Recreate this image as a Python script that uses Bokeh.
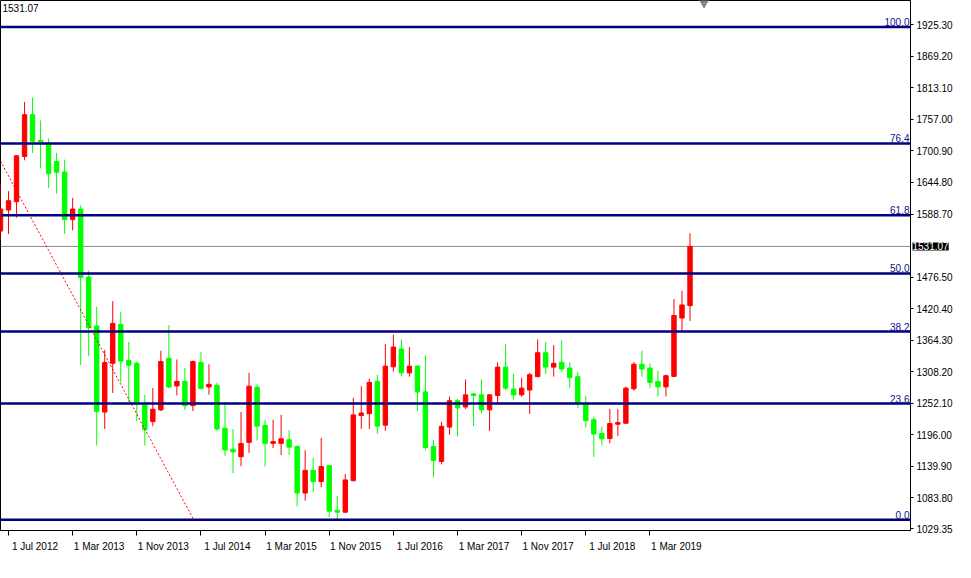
from bokeh.plotting import figure
from bokeh.models import (Range1d, Span, Label, FixedTicker, ColumnDataSource,
                          NumeralTickFormatter)
from bokeh.embed import file_html
from bokeh.resources import INLINE

# ---- data (monthly candles, first bar = Jun 2012) ----
first_month = (2012, 6)
opens = [1558.4, 1595.8, 1610.6, 1691.0, 1765.3, 1719.4, 1713.8, 1682.0, 1663.3, 1578.8,
         1597.5, 1476.5, 1389.6, 1236.6, 1323.3, 1392.5, 1328.4, 1323.3, 1249.0, 1219.6,
         1240.5, 1332.1, 1283.0, 1291.0, 1248.0, 1324.5, 1281.3, 1284.2, 1207.7, 1170.3,
         1157.2, 1182.7, 1280.8, 1212.8, 1181.0, 1181.0, 1187.3, 1175.4, 1092.6, 1132.9,
         1113.0, 1141.4, 1062.0, 1058.6, 1114.7, 1230.3, 1233.7, 1291.0, 1213.3, 1317.0,
         1348.8, 1306.3, 1318.2, 1272.3, 1175.4, 1148.7, 1209.9, 1256.8, 1245.6, 1268.9,
         1267.2, 1240.5, 1266.0, 1316.5, 1277.4, 1267.2, 1275.7, 1299.5, 1342.0, 1316.5,
         1325.0, 1314.8, 1299.5, 1250.2, 1223.0, 1198.4, 1189.5, 1215.0, 1216.7, 1278.0,
         1321.6, 1314.8, 1291.0, 1281.3, 1300.0, 1403.7, 1425.8]
highs = [1641.7, 1629.3, 1693.0, 1787.9, 1795.9, 1755.1, 1722.8, 1697.3, 1685.4, 1617.4,
         1603.8, 1488.2, 1423.6, 1347.1, 1433.8, 1415.1, 1361.2, 1326.2, 1267.2, 1279.1,
         1345.4, 1391.3, 1330.1, 1314.8, 1328.2, 1343.2, 1321.6, 1288.8, 1253.6, 1206.5,
         1236.6, 1306.3, 1285.9, 1223.0, 1223.0, 1231.5, 1204.3, 1177.1, 1168.6, 1155.0,
         1190.7, 1142.0, 1087.5, 1126.1, 1262.1, 1282.5, 1296.1, 1302.9, 1357.3, 1374.3,
         1365.8, 1352.2, 1319.9, 1337.2, 1187.3, 1219.6, 1263.8, 1260.4, 1294.4, 1270.6,
         1294.4, 1268.0, 1325.0, 1357.3, 1304.6, 1297.8, 1306.3, 1365.8, 1360.7, 1355.6,
         1364.1, 1325.0, 1308.0, 1265.5, 1228.1, 1211.1, 1242.2, 1241.7, 1281.9, 1325.6,
         1345.4, 1323.3, 1310.1, 1302.9, 1437.2, 1452.5, 1554.5]
lows = [1542.6, 1553.3, 1582.2, 1684.2, 1697.3, 1670.1, 1634.9, 1624.7, 1553.3, 1559.6,
        1320.4, 1335.7, 1177.1, 1206.5, 1270.6, 1289.3, 1253.6, 1219.8, 1177.1, 1211.1,
        1238.3, 1279.0, 1266.0, 1240.5, 1238.3, 1277.0, 1267.7, 1202.6, 1159.0, 1127.8,
        1140.2, 1164.0, 1186.1, 1140.2, 1172.5, 1160.1, 1160.1, 1068.8, 1079.0, 1094.3,
        1102.8, 1050.1, 1045.0, 1056.9, 1113.0, 1206.5, 1206.5, 1198.0, 1203.1, 1308.5,
        1300.0, 1299.5, 1238.3, 1168.6, 1120.6, 1143.6, 1196.3, 1192.9, 1242.2, 1211.6,
        1234.5, 1203.1, 1250.7, 1275.7, 1258.7, 1263.8, 1233.2, 1299.5, 1304.6, 1299.5,
        1307.8, 1279.1, 1243.4, 1209.4, 1156.7, 1177.1, 1181.0, 1194.1, 1216.0, 1274.6,
        1299.5, 1279.1, 1264.3, 1264.3, 1300.0, 1381.1, 1398.6]
closes = [1597.5, 1612.3, 1692.2, 1765.3, 1718.2, 1716.5, 1660.4, 1662.8, 1578.8, 1597.5,
          1475.8, 1386.7, 1237.8, 1324.5, 1394.2, 1327.2, 1319.9, 1250.7, 1205.5, 1241.7,
          1326.5, 1281.1, 1291.0, 1248.0, 1326.5, 1278.6, 1285.9, 1206.5, 1169.1, 1165.7,
          1180.5, 1282.5, 1211.6, 1181.0, 1184.0, 1189.1, 1174.2, 1092.6, 1132.9, 1113.0,
          1139.7, 1060.3, 1058.6, 1115.9, 1231.5, 1234.9, 1289.3, 1211.6, 1318.2, 1352.2,
          1306.3, 1318.2, 1272.3, 1173.7, 1150.4, 1211.1, 1256.8, 1243.9, 1267.2, 1266.0,
          1240.5, 1267.2, 1316.5, 1279.1, 1267.2, 1279.1, 1302.9, 1342.0, 1316.5, 1323.3,
          1313.1, 1297.8, 1251.9, 1221.3, 1197.5, 1189.1, 1216.2, 1217.9, 1279.1, 1321.6,
          1313.1, 1289.3, 1281.3, 1301.2, 1408.3, 1427.0, 1531.07]

tick_months = [(2012, 7), (2013, 3), (2013, 11), (2014, 7), (2015, 3), (2015, 11),
               (2016, 7), (2017, 3), (2017, 11), (2018, 7), (2019, 3)]
tick_labels = ["1 Jul 2012", "1 Mar 2013", "1 Nov 2013", "1 Jul 2014", "1 Mar 2015",
               "1 Nov 2015", "1 Jul 2016", "1 Mar 2017", "1 Nov 2017", "1 Jul 2018",
               "1 Mar 2019"]

price_ticks = [1029.35, 1083.80, 1139.90, 1196.00, 1252.10, 1308.20, 1364.30, 1420.40,
               1476.50, 1588.70, 1644.80, 1700.90, 1757.00, 1813.10, 1869.20, 1925.30]

fib_levels = [0.0, 23.6, 38.2, 50.0, 61.8, 76.4, 100.0]
fib_prices = [1045.0, 1251.7, 1379.6, 1483.0, 1586.3, 1714.2, 1921.0]

current_price = 1531.07
fibo_anchor_months = [(2011, 9), (2014, 6)]
fibo_anchor_prices = [1921.0, 1045.0]
fibo_anchor_frac = [0.0, 0.1]

shift_marker_month = 87.75

# ---- helpers ----
def month_index(ym, frac=0.0):
    return (ym[0] - first_month[0]) * 12 + (ym[1] - first_month[1]) + frac

n = len(opens)
xs = list(range(n))
UP = "#FF0000"
DOWN = "#00FF00"
colors = [UP if c >= o else DOWN for o, c in zip(opens, closes)]
src = ColumnDataSource(dict(
    x=xs, high=highs, low=lows,
    top=[max(o, c) for o, c in zip(opens, closes)],
    bottom=[min(o, c) for o, c in zip(opens, closes)],
    color=colors,
))

X_END = 113.5          # ~8 px per monthly bar
Y_MIN, Y_MAX = 1026.0, 1968.3
FONT = "Liberation Sans"
LABEL_SHIFT = 3.3      # date labels start just right of their tick

p = figure(width=955, height=562, output_backend="svg", toolbar_location=None,
           x_range=Range1d(0, X_END), y_range=Range1d(Y_MIN, Y_MAX),
           y_axis_location="right", min_border=0)
p.grid.visible = False
p.outline_line_color = "black"
p.outline_line_width = 1
p.background_fill_color = "white"
p.border_fill_color = "white"

# x axis: labels as major ticks (no marks), real date ticks as minor marks
tick_pos = [month_index(m) for m in tick_months]
lab_pos = [t + LABEL_SHIFT for t in tick_pos]
xa = p.below[0]
xa.ticker = FixedTicker(ticks=lab_pos, minor_ticks=tick_pos)
xa.major_label_overrides = {t: l for t, l in zip(lab_pos, tick_labels)}
xa.major_tick_in = 0
xa.major_tick_out = 0
xa.minor_tick_in = 0
xa.minor_tick_out = 5
xa.minor_tick_line_color = "black"
xa.major_label_standoff = 5
xa.major_label_text_font = FONT
xa.major_label_text_font_size = "10px"
xa.major_label_text_color = "black"
xa.axis_line_color = "black"

# y axis on the right
ya = p.right[0]
ya.ticker = FixedTicker(ticks=price_ticks)
ya.formatter = NumeralTickFormatter(format="0.00")
ya.major_tick_in = 0
ya.major_tick_out = 3
ya.minor_tick_line_color = None
ya.major_label_standoff = 3
ya.major_label_text_font = FONT
ya.major_label_text_font_size = "10px"
ya.major_label_text_color = "black"
ya.axis_line_color = "black"

# current price line
p.add_layout(Span(location=current_price, dimension="width", line_color="#8a8a8a",
                  line_width=1, level="underlay"))

# candles
p.segment(x0="x", y0="high", x1="x", y1="low", source=src, line_color="color", line_width=1)
p.vbar(x="x", width=0.55, top="top", bottom="bottom", source=src,
       fill_color="color", line_color="color", line_width=1)

# fibo diagonal
p.line(x=[month_index(m, f) for m, f in zip(fibo_anchor_months, fibo_anchor_frac)],
       y=fibo_anchor_prices, line_color="#FF0000", line_dash="2 2", line_width=1)

# fibo levels
for lvl, pr in zip(fib_levels, fib_prices):
    p.add_layout(Span(location=pr, dimension="width", line_color="#000080", line_width=2.5))
    p.add_layout(Label(x=X_END, y=pr, text=f"{lvl:.1f}", text_align="right",
                       text_baseline="bottom", x_offset=-1, y_offset=1,
                       text_font=FONT, text_font_size="10px", text_color="#10108a"))

# chart shift marker
p.scatter(x=[shift_marker_month], y=[Y_MAX - 3], marker="inverted_triangle", size=10,
          fill_color="#7d8a97", line_color="#7d8a97")

# top-left price text
p.add_layout(Label(x=0, y=Y_MAX, text=f"{current_price:.2f}", text_align="left",
                   text_baseline="top", x_offset=2, y_offset=-3, text_font=FONT,
                   text_font_size="10px", text_color="black"))

# price tag on the price axis (kept in a side panel so it is not clipped to the frame;
# its position still comes from the data scales)
p.add_layout(Label(x=X_END, y=current_price, text=f"{current_price:.2f}",
                   text_align="left", text_baseline="middle", x_offset=2,
                   text_font=FONT, text_font_size="10px", text_color="white",
                   background_fill_color="black", background_fill_alpha=1.0), "below")

open("out.html", "w").write(file_html(p, INLINE))
